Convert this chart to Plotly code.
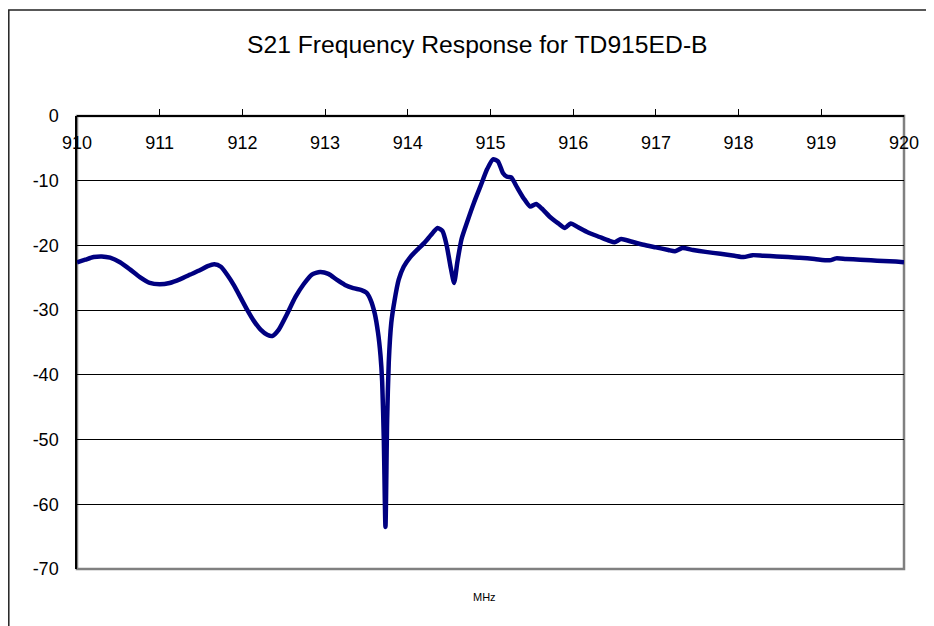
import plotly.graph_objects as go

freq_mhz = [910.00, 910.10, 910.20, 910.30, 910.40, 910.52, 910.64, 910.76, 910.88, 911.00,
            911.12, 911.25, 911.37, 911.49, 911.58, 911.66, 911.74, 911.82, 911.90, 911.98,
            912.06, 912.14, 912.22, 912.30, 912.36, 912.44, 912.54, 912.64, 912.74, 912.84,
            912.94, 913.04, 913.14, 913.24, 913.34, 913.44, 913.50, 913.55, 913.60, 913.64,
            913.67, 913.69, 913.71, 913.73, 913.75, 913.77, 913.80, 913.84, 913.89, 913.95,
            914.03, 914.12, 914.20, 914.28, 914.36, 914.42, 914.47, 914.52, 914.56, 914.60,
            914.65, 914.72, 914.80, 914.88, 914.96, 915.03, 915.09, 915.15, 915.20, 915.25,
            915.32, 915.40, 915.48, 915.55, 915.62, 915.72, 915.82, 915.90, 915.97, 916.06,
            916.18, 916.32, 916.44, 916.50, 916.58, 916.70, 916.85, 917.00, 917.15, 917.23,
            917.32, 917.45, 917.60, 917.78, 917.95, 918.06, 918.17, 918.30, 918.46, 918.60,
            918.74, 918.92, 919.10, 919.18, 919.30, 919.47, 919.60, 919.75, 919.90, 920.00]

s21_db = [-22.6, -22.2, -21.8, -21.7, -21.9, -22.6, -23.7, -24.9, -25.8, -26.0,
          -25.8, -25.2, -24.5, -23.8, -23.2, -22.9, -23.3, -24.6, -26.2, -28.1,
          -30.0, -31.7, -33.0, -33.8, -34.0, -33.0, -30.6, -28.0, -26.0, -24.5,
          -24.1, -24.4, -25.3, -26.1, -26.6, -26.9, -27.3, -28.4, -30.5, -33.5,
          -37.0, -41.0, -50.0, -63.5, -47.0, -38.0, -32.0, -28.5, -25.3, -23.3,
          -21.8, -20.6, -19.6, -18.4, -17.3, -17.8, -20.0, -23.5, -25.8, -22.5,
          -19.0, -16.3, -13.4, -10.8, -8.2, -6.7, -7.0, -8.8, -9.4, -9.5,
          -11.0, -12.7, -14.0, -13.6, -14.3, -15.6, -16.6, -17.3, -16.6, -17.2,
          -18.0, -18.7, -19.3, -19.5, -19.0, -19.4, -19.9, -20.3, -20.7, -20.9,
          -20.4, -20.7, -21.0, -21.3, -21.6, -21.8, -21.5, -21.6, -21.7, -21.8,
          -21.9, -22.1, -22.3, -22.0, -22.1, -22.2, -22.3, -22.4, -22.5, -22.6]

x_ticks = [910, 911, 912, 913, 914, 915, 916, 917, 918, 919, 920]
y_ticks = [0, -10, -20, -30, -40, -50, -60, -70]

title_text = "S21 Frequency Response for TD915ED-B"
x_label = "MHz"

FONT = "Arial, Liberation Sans, sans-serif"

fig = go.Figure()
fig.add_trace(go.Scatter(
    x=freq_mhz, y=s21_db, mode="lines",
    line=dict(color="#000080", width=4.5, shape="spline", smoothing=0.6),
    showlegend=False, hoverinfo="x+y",
))

# plot-area border (grey)
fig.add_shape(type="rect", xref="paper", yref="paper", x0=0, x1=1, y0=0, y1=1,
              line=dict(color="#808080", width=2.5), layer="below")
# chart-area border (partially visible: top and left)
fig.add_shape(type="rect", xref="paper", yref="paper", x0=-68.2 / 827, x1=1.1,
              y0=-0.2, y1=1 + 106 / 453,
              line=dict(color="#222222", width=1.5))

fig.add_annotation(text=x_label, xref="paper", yref="paper", x=0.493, y=-0.062,
                   showarrow=False, font=dict(family=FONT, size=11, color="black"),
                   xanchor="center", yanchor="middle")

fig.update_layout(
    width=934, height=626,
    margin=dict(l=69, r=38, t=108, b=65),
    paper_bgcolor="white", plot_bgcolor="white",
    title=dict(text=title_text, xref="paper", x=0.484, xanchor="center",
               yref="container", y=1 - 36 / 626, yanchor="middle",
               font=dict(family=FONT, size=24.7, color="black")),
    font=dict(family=FONT, color="black"),
    xaxis=dict(range=[910, 920], tickvals=x_ticks, ticktext=[str(v) for v in x_ticks],
               anchor="free", position=1, side="bottom",
               showline=True, linecolor="black", linewidth=1.5,
               ticks="inside", ticklen=6, tickcolor="black", tickwidth=1,
               showgrid=False, zeroline=False,
               tickfont=dict(family=FONT, size=18, color="black"),
               ticklabelstandoff=11),
    yaxis=dict(range=[-70, 0], tickvals=y_ticks, ticktext=[str(v) for v in y_ticks],
               showline=True, linecolor="black", linewidth=1.5,
               showgrid=True, gridcolor="black", gridwidth=1,
               zeroline=False, ticks="",
               tickfont=dict(family=FONT, size=18, color="black"),
               ticklabelstandoff=13),
)

fig.write_html("out.html")
